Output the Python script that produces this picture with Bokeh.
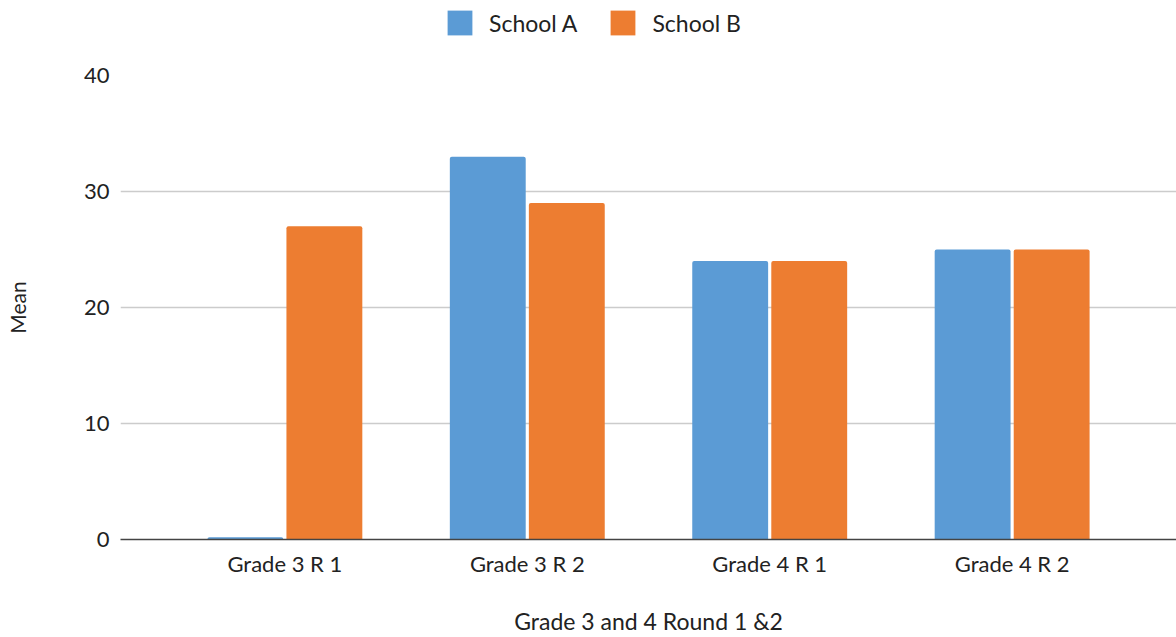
from bokeh.plotting import figure
from bokeh.layouts import column
from bokeh.models import (FactorRange, Range1d, Legend, LegendItem, ColumnDataSource,
                          SingleIntervalTicker)
from bokeh.transform import dodge
from bokeh.embed import file_html
from bokeh.resources import INLINE

# Mean scores per round
categories = ["Grade 3 R 1", "Grade 3 R 2", "Grade 4 R 1", "Grade 4 R 2"]
school_a = [0.2, 33, 24, 25]
school_b = [27, 29, 24, 25]
series_names = ["School A", "School B"]

FONT = "Lato"
BLUE = "#5B9BD5"
ORANGE = "#ED7D31"
TEXT = "#222222"

source = ColumnDataSource(dict(cat=categories, a=school_a, b=school_b))

# ---- main chart ----
p = figure(
    width=1176, height=577,
    x_range=FactorRange(*categories, range_padding=0.178, range_padding_units="absolute"),
    y_range=Range1d(0, 40),
    output_backend="svg", toolbar_location=None,
    min_border_left=120, min_border_right=0, min_border_top=15, min_border_bottom=98,
)
p.outline_line_color = None
p.background_fill_color = "white"
p.border_fill_color = "white"

bar_w = 0.313
p.vbar(x=dodge("cat", -0.163, range=p.x_range), top="a", width=bar_w, source=source,
       fill_color=BLUE, line_color=None, border_radius=[2, 2, 0, 0])
p.vbar(x=dodge("cat", 0.163, range=p.x_range), top="b", width=bar_w, source=source,
       fill_color=ORANGE, line_color=None, border_radius=[2, 2, 0, 0])

p.yaxis.ticker = SingleIntervalTicker(interval=10)
p.yaxis.axis_line_color = None
p.yaxis.major_tick_line_color = None
p.yaxis.minor_tick_line_color = None
p.yaxis.major_label_standoff = 5
p.yaxis.major_label_text_font = FONT
p.yaxis.major_label_text_font_size = "22px"
p.yaxis.major_label_text_color = TEXT
p.yaxis.axis_label = "Mean"
p.yaxis.axis_label_text_font = FONT
p.yaxis.axis_label_text_font_size = "21px"
p.yaxis.axis_label_text_font_style = "normal"
p.yaxis.axis_label_text_color = TEXT
p.yaxis.axis_label_standoff = 51

p.xaxis.axis_line_color = "#444444"
p.xaxis.axis_line_width = 1.5
p.xaxis.major_tick_line_color = None
p.xaxis.minor_tick_line_color = None
p.xaxis.major_label_standoff = 4
p.xaxis.major_label_text_font = FONT
p.xaxis.major_label_text_font_size = "22px"
p.xaxis.major_label_text_color = TEXT
p.xaxis.axis_label = "Grade 3 and 4 Round 1 &2"
p.xaxis.axis_label_text_font = FONT
p.xaxis.axis_label_text_font_size = "23px"
p.xaxis.axis_label_text_font_style = "normal"
p.xaxis.axis_label_text_color = TEXT
p.xaxis.axis_label_standoff = 27

p.xgrid.grid_line_color = None
p.ygrid.grid_line_color = "#cccccc"
p.ygrid.grid_line_width = 1.5

# ---- legend strip above the chart ----
top = figure(
    width=1176, height=60,
    x_range=Range1d(0, 1), y_range=Range1d(0, 1),
    output_backend="svg", toolbar_location=None,
    x_axis_location=None, y_axis_location=None,
    min_border_left=120, min_border_right=0, min_border_top=0, min_border_bottom=0,
)
top.outline_line_color = None
top.xgrid.visible = False
top.ygrid.visible = False
# zero-height keys: they only lend their colours to the legend
key_a = top.vbar(x=0, top=0, bottom=0, width=0, source=source, fill_color=BLUE, line_color=None)
key_b = top.vbar(x=0, top=0, bottom=0, width=0, source=source, fill_color=ORANGE, line_color=None)

legend = Legend(
    items=[LegendItem(label=series_names[0], renderers=[key_a]),
           LegendItem(label=series_names[1], renderers=[key_b])],
    orientation="horizontal",
    location=(324, 22),
    glyph_width=31, glyph_height=31,
    label_standoff=14, spacing=30,
    label_text_font=FONT, label_text_font_size="23px", label_text_color=TEXT,
    border_line_color=None, background_fill_alpha=0,
    padding=0, margin=0,
)
top.add_layout(legend, "center")

layout = column(top, p, spacing=0)
open("out.html", "w").write(file_html(layout, INLINE))
